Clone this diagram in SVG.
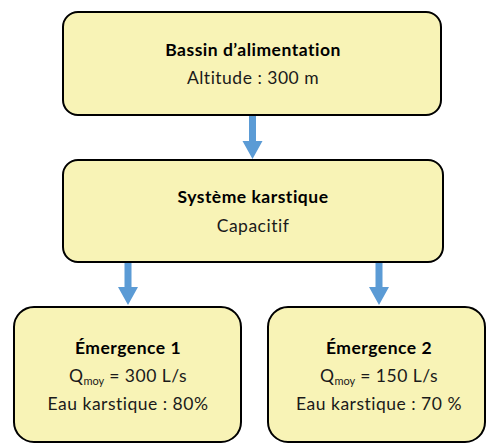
<svg xmlns="http://www.w3.org/2000/svg" width="486" height="444" viewBox="0 0 486 444">
<style>
.box{fill:#f8f3b6;stroke:#000;stroke-width:2}
.t{font-family:Lato,"Open Sans",sans-serif;font-size:17.5px;letter-spacing:0.5px;fill:#1a1a1a;text-anchor:middle}
.b{font-weight:bold;fill:#000}
.sub{font-size:11px;letter-spacing:0}
.arr{fill:#5b9bd5}
</style>
<rect width="486" height="444" fill="#fff"/>
<g id="connectors">
<path class="arr" d="M249 115 H256 V141 H262.5 L252.5 159 L242.5 141 H249 Z"/>
<path class="arr" d="M124.5 263 H131.5 V287 H138 L128 305 L118 287 H124.5 Z"/>
<path class="arr" d="M375.5 263 H382.5 V287 H389 L379 305 L369 287 H375.5 Z"/>
</g>
<g id="bassin">
<rect class="box" x="63" y="12" width="378" height="103" rx="15"/>
<text class="t b" x="253" y="56">Bassin d’alimentation</text>
<text class="t" x="253" y="84">Altitude : 300 m</text>
</g>
<g id="systeme">
<rect class="box" x="63" y="160" width="380" height="102" rx="15"/>
<text class="t b" x="253" y="203">Système karstique</text>
<text class="t" x="253" y="232">Capacitif</text>
</g>
<g id="emergence1">
<rect class="box" x="14" y="307" width="227" height="135" rx="20"/>
<text class="t b" x="128" y="354">Émergence 1</text>
<text class="t" x="128" y="382">Q<tspan class="sub" dy="3">moy</tspan><tspan dy="-3"> = 300 L/s</tspan></text>
<text class="t" x="128" y="410">Eau karstique : 80%</text>
</g>
<g id="emergence2">
<rect class="box" x="268" y="307" width="217" height="135" rx="20"/>
<text class="t b" x="379" y="354">Émergence 2</text>
<text class="t" x="379" y="382">Q<tspan class="sub" dy="3">moy</tspan><tspan dy="-3"> = 150 L/s</tspan></text>
<text class="t" x="379" y="410">Eau karstique : 70 %</text>
</g>
</svg>
